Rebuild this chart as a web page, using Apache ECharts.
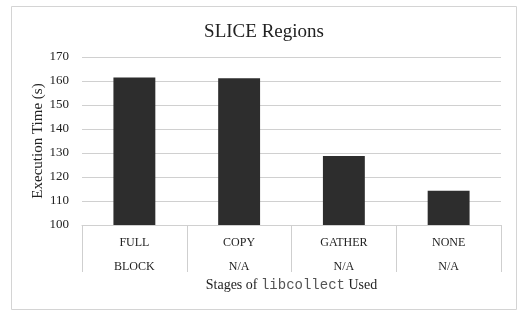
<!DOCTYPE html>
<html><head><meta charset="utf-8">
<script src="https://cdn.jsdelivr.net/npm/echarts@6/dist/echarts.min.js"></script>
<style>html,body{margin:0;padding:0;background:#fff}#c{width:528px;height:312px}</style>
</head><body><div id="c"></div>
<script>
const categories = ['FULL\nBLOCK', 'COPY\nN/A', 'GATHER\nN/A', 'NONE\nN/A'];
const values = [161.5, 161.1, 128.7, 114.3];
const yTicks = [100, 110, 120, 130, 140, 150, 160, 170];

const serif = 'Liberation Serif';
const chart = echarts.init(document.getElementById('c'), null, {renderer: 'canvas'});
chart.setOption({
  animation: false,
  backgroundColor: '#fff',
  graphic: [{type: 'rect', shape: {x: 11.5, y: 6.5, width: 505, height: 303}, style: {fill: 'none', stroke: '#d4d4d4', lineWidth: 1}}],
  title: {text: 'SLICE Regions', left: 'center', top: 18, textStyle: {fontFamily: serif, fontSize: 19, fontWeight: 'normal', color: '#222'}},
  grid: {left: 82, right: 27, top: 57, bottom: 87},
  xAxis: {
    type: 'category', data: categories,
    axisLine: {show: true, lineStyle: {color: '#d0d0d0'}},
    axisTick: {show: true, interval: 0, length: 47, lineStyle: {color: '#cfcfcf'}},
    axisLabel: {interval: 0, fontFamily: serif, fontSize: 12, color: '#222', lineHeight: 24, margin: 6},
    name: '{a|Stages of }{b|libcollect}{a| Used}', nameLocation: 'middle', nameGap: 53, nameMoveOverlap: false,
    nameTextStyle: {rich: {a: {fontFamily: serif, fontSize: 14, color: '#222'}, b: {fontFamily: 'Liberation Mono', fontSize: 14, color: '#555'}}}
  },
  yAxis: {
    type: 'value', min: 100, max: 170, interval: 10,
    axisLine: {show: false}, axisTick: {show: false},
    splitLine: {lineStyle: {color: '#d0d0d0'}},
    axisLabel: {fontFamily: serif, fontSize: 13, color: '#222', margin: 13, formatter: v => yTicks.includes(v) ? String(v) : ''},
    name: 'Execution Time (s)', nameLocation: 'middle', nameGap: 36, nameMoveOverlap: false,
    nameTextStyle: {fontFamily: serif, fontSize: 15, color: '#222'}
  },
  series: [{type: 'bar', data: values, barWidth: '40%', itemStyle: {color: '#2d2d2d'}}]
});
</script></body></html>
